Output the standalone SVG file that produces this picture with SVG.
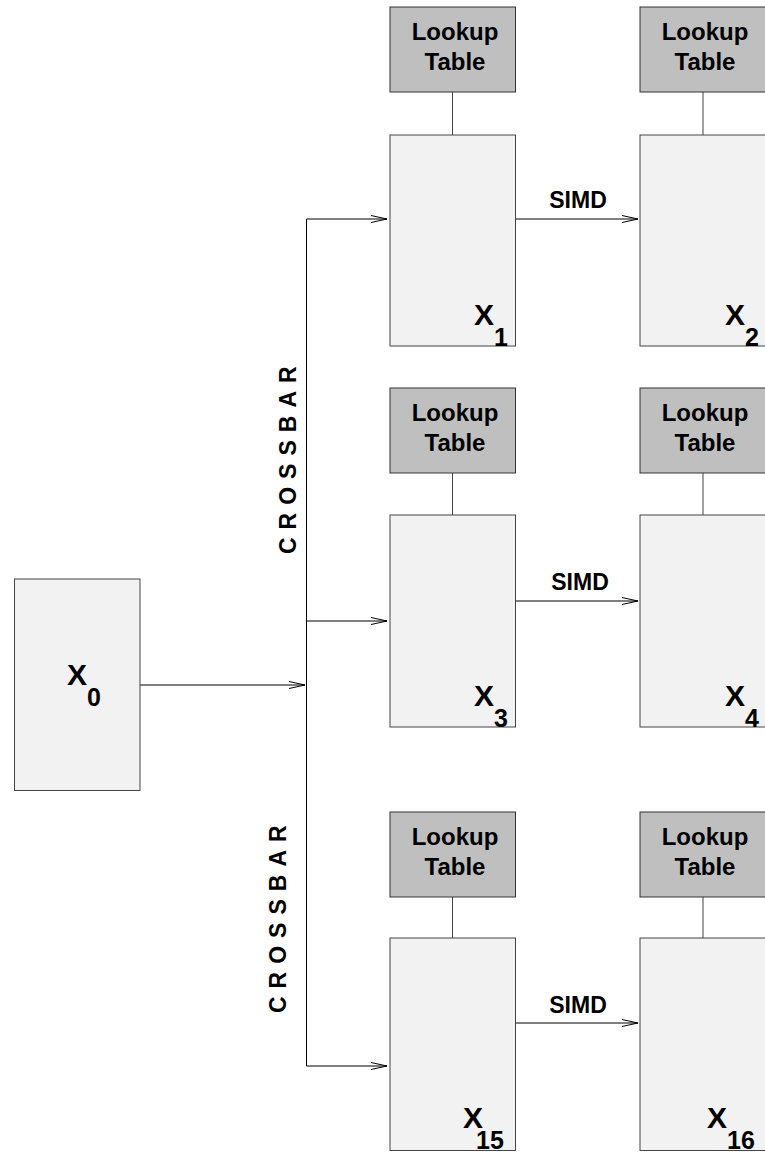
<svg xmlns="http://www.w3.org/2000/svg" width="765" height="1152" viewBox="0 0 765 1152">
<style>
.lut{fill:#bfbfbf;stroke:#333;stroke-width:1}
.pe{fill:#f2f2f2;stroke:#444;stroke-width:1}
.ln{fill:none;stroke:#000;stroke-width:1}
.lk{fill:none;stroke:#444;stroke-width:1}
text{font-family:"Liberation Sans",Arial,sans-serif;font-weight:bold;fill:#000}
.t{font-size:24px;text-anchor:middle}
.sd{font-size:23px;text-anchor:middle}
.x{font-size:30px}
.s{font-size:25px}
.cb{font-size:23px;letter-spacing:8px}
</style>
<defs>
<marker id="ah" markerUnits="userSpaceOnUse" markerWidth="18" markerHeight="10" refX="16" refY="4" orient="auto" overflow="visible">
<path d="M0,0.5 L16,4 L0,7.5" fill="none" stroke="#000" stroke-width="1"/>
</marker>
</defs>

<g id="connectors">
<line class="ln" x1="140" y1="685" x2="305" y2="685" marker-end="url(#ah)"/>
<line class="ln" x1="306.5" y1="219" x2="306.5" y2="1066"/>
<line class="ln" x1="306.5" y1="219" x2="387" y2="219" marker-end="url(#ah)"/>
<line class="ln" x1="306.5" y1="621" x2="387" y2="621" marker-end="url(#ah)"/>
<line class="ln" x1="306.5" y1="1066" x2="387" y2="1066" marker-end="url(#ah)"/>
<line class="ln" x1="515" y1="219" x2="638" y2="219" marker-end="url(#ah)"/>
<line class="ln" x1="515" y1="601" x2="638" y2="601" marker-end="url(#ah)"/>
<line class="ln" x1="515" y1="1023" x2="638" y2="1023" marker-end="url(#ah)"/>
<line class="lk" x1="452.5" y1="92" x2="452.5" y2="135"/>
<line class="lk" x1="703" y1="92" x2="703" y2="135"/>
<line class="lk" x1="452.5" y1="473" x2="452.5" y2="515"/>
<line class="lk" x1="703" y1="473" x2="703" y2="515"/>
<line class="lk" x1="452.5" y1="897" x2="452.5" y2="938"/>
<line class="lk" x1="703" y1="897" x2="703" y2="938"/>
<text class="sd" x="578" y="208">SIMD</text>
<text class="sd" x="580" y="590">SIMD</text>
<text class="sd" x="578" y="1013">SIMD</text>
<text class="cb" transform="translate(296,554) rotate(-90)">CROSSBAR</text>
<text class="cb" transform="translate(286,1013) rotate(-90)">CROSSBAR</text>
</g>

<g id="x0">
<rect class="pe" x="14.5" y="579" width="125.5" height="211.5"/>
<text class="x" x="67" y="685">X</text><text class="s" x="87" y="706">0</text>
</g>

<g id="lut1"><rect class="lut" x="390" y="7" width="125.5" height="85"/>
<text class="t" x="455" y="40">Lookup</text><text class="t" x="455" y="70">Table</text></g>
<g id="x1"><rect class="pe" x="390" y="135" width="125.5" height="211"/>
<text class="x" x="474" y="325">X</text><text class="s" x="494" y="346">1</text></g>

<g id="lut2"><rect class="lut" x="640" y="7" width="125.5" height="85"/>
<text class="t" x="705" y="40">Lookup</text><text class="t" x="705" y="70">Table</text></g>
<g id="x2"><rect class="pe" x="640" y="135" width="125.5" height="211"/>
<text class="x" x="725" y="325">X</text><text class="s" x="745" y="346">2</text></g>

<g id="lut3"><rect class="lut" x="390" y="388" width="125.5" height="85"/>
<text class="t" x="455" y="421">Lookup</text><text class="t" x="455" y="451">Table</text></g>
<g id="x3"><rect class="pe" x="390" y="515" width="125.5" height="212"/>
<text class="x" x="474" y="706">X</text><text class="s" x="494" y="727">3</text></g>

<g id="lut4"><rect class="lut" x="640" y="388" width="125.5" height="85"/>
<text class="t" x="705" y="421">Lookup</text><text class="t" x="705" y="451">Table</text></g>
<g id="x4"><rect class="pe" x="640" y="515" width="125.5" height="212"/>
<text class="x" x="725" y="706">X</text><text class="s" x="745" y="727">4</text></g>

<g id="lut15"><rect class="lut" x="390" y="812" width="125.5" height="85"/>
<text class="t" x="455" y="845">Lookup</text><text class="t" x="455" y="875">Table</text></g>
<g id="x15"><rect class="pe" x="390" y="938" width="125.5" height="212.5"/>
<text class="x" x="463" y="1128">X</text><text class="s" x="476" y="1149">15</text></g>

<g id="lut16"><rect class="lut" x="640" y="812" width="125.5" height="85"/>
<text class="t" x="705" y="845">Lookup</text><text class="t" x="705" y="875">Table</text></g>
<g id="x16"><rect class="pe" x="640" y="938" width="125.5" height="212.5"/>
<text class="x" x="707" y="1128">X</text><text class="s" x="727" y="1149">16</text></g>
</svg>
